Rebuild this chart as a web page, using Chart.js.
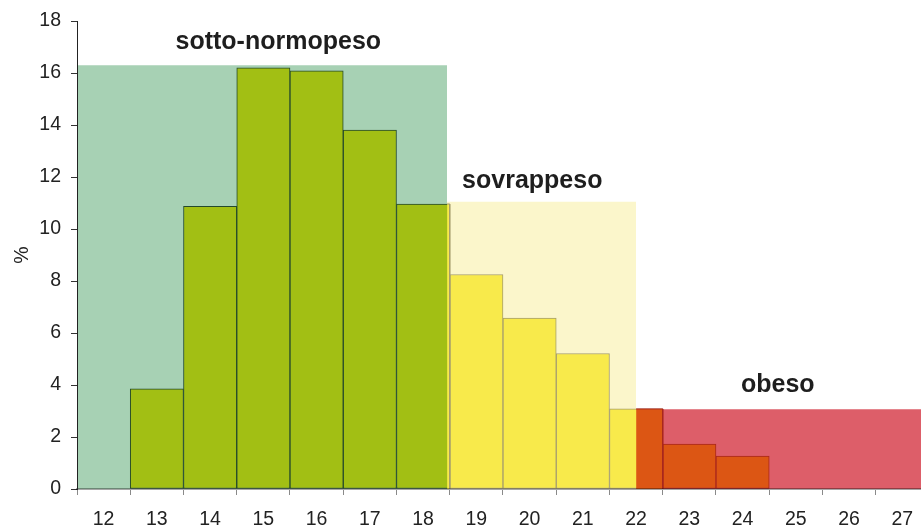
<!DOCTYPE html>
<html>
<head>
<meta charset="utf-8">
<script src="https://cdn.jsdelivr.net/npm/chart.js@4.4.1/dist/chart.umd.min.js"></script>
<style>
  html, body { margin: 0; padding: 0; background: #ffffff; overflow: hidden; }
  canvas { display: block; }
</style>
</head>
<body>
<canvas id="c" width="921" height="529"></canvas>
<script>
// ---- data ----
const tickLabels = [12, 13, 14, 15, 16, 17, 18, 19, 20, 21, 22, 23, 24, 25, 26, 27];

const normX = [13, 14, 15, 16, 17, 18];
const normVals = [3.85, 10.87, 16.2, 16.08, 13.8, 10.96];

const overX = [19, 20, 21, 22];
const overVals = [8.25, 6.57, 5.21, 3.08];

const obeseX = [23, 24];
const obeseVals = [1.73, 1.27];

// bands (class ranges on the x axis and their heights)
const bandNames = ['sotto-normopeso', 'sovrappeso', 'obeso'];
const bandStart = [11.5, 18.45, 22.0];
const bandEnd = [18.45, 22.0, 28.0];
const bandHeight = [16.3, 11.05, 3.07];
// label anchor positions (data units)
const bandLabelX = [15.28, 20.05, 24.66];
const bandLabelY = [17.18, 11.83, 3.99];

// split bars on the class limits
const splitOverX = [18.45, 18.5];   // part of bar 18 falling in "sovrappeso"
const splitOverVal = 10.96;
const splitObeseX = [22.0, 22.5];   // part of bar 22 falling in "obeso"
const splitObeseVal = 3.08;

// ---- styles ----
const bandColors = ['#a7d1b4', '#fbf6cb', '#dd5e69'];
const normFill = '#a2bf14', normBorder = '#244a2c';
const overFill = '#f8ea4b', overBorder = '#a69e6e';
const obeseFill = '#dc5614', obeseBorder = '#a8261e';

function pts(xs, ys) { return xs.map((x, i) => ({ x: x, y: ys[i] })); }

const datasets = [];
bandNames.forEach((n, i) => {
  datasets.push({
    type: 'line',
    label: n,
    data: [{ x: bandStart[i], y: bandHeight[i] }, { x: bandEnd[i], y: bandHeight[i] }],
    backgroundColor: bandColors[i],
    borderWidth: 0,
    borderColor: 'rgba(0,0,0,0)',
    pointRadius: 0,
    fill: 'origin',
    order: 10
  });
});

function barSet(xs, vals, fill, border) {
  return {
    type: 'bar',
    data: pts(xs, vals),
    backgroundColor: fill,
    borderColor: border,
    borderWidth: 1,
    borderSkipped: false,
    grouped: false,
    barPercentage: 1,
    categoryPercentage: 1,
    order: 5
  };
}
datasets.push(barSet(normX, normVals, normFill, normBorder));
datasets.push(barSet(overX, overVals, overFill, overBorder));
datasets.push(barSet(obeseX, obeseVals, obeseFill, obeseBorder));

function splitSet(xs, v, fill, border) {
  return {
    type: 'line',
    data: [{ x: xs[0], y: v }, { x: xs[1], y: v }, { x: xs[1], y: 0 }],
    backgroundColor: fill,
    borderColor: border,
    borderWidth: 1,
    pointRadius: 0,
    tension: 0,
    fill: 'origin',
    order: 1
  };
}
datasets.push(splitSet(splitOverX, splitOverVal, overFill, overBorder));
datasets.push(splitSet(splitObeseX, splitObeseVal, obeseFill, obeseBorder));

const bandLabels = {
  id: 'bandLabels',
  afterDatasetsDraw(chart) {
    const ctx = chart.ctx;
    const xs = chart.scales.x, ys = chart.scales.y;
    ctx.save();
    ctx.font = 'bold 25px "Liberation Sans", Arial, sans-serif';
    ctx.fillStyle = '#1e1e1e';
    ctx.textAlign = 'center';
    ctx.textBaseline = 'middle';
    bandNames.forEach((n, i) => {
      ctx.fillText(n, xs.getPixelForValue(bandLabelX[i]), ys.getPixelForValue(bandLabelY[i]));
    });
    ctx.restore();
  }
};

const tickFont = { family: '"Liberation Sans", Arial, sans-serif', size: 19.5 };

new Chart(document.getElementById('c'), {
  type: 'bar',
  data: { datasets: datasets },
  options: {
    responsive: false,
    animation: false,
    layout: { padding: { top: 21, right: 0, left: 0, bottom: 0 } },
    plugins: { legend: { display: false }, tooltip: { enabled: false } },
    scales: {
      x: {
        type: 'linear',
        min: 11.5,
        max: 27.35,
        offset: false,
        afterBuildTicks(scale) { scale.ticks = tickLabels.map(v => ({ value: v })); },
        afterFit(scale) { scale.height = 40; scale.paddingRight = 0; scale.paddingLeft = 0; },
        grid: { offset: true, drawOnChartArea: false, drawTicks: true, tickLength: 6, color: '#8a8a8a' },
        border: { display: true, color: 'rgba(0,0,0,0.35)', width: 2, z: 1 },
        ticks: { font: tickFont, color: '#222', padding: 13, maxRotation: 0, autoSkip: false,
                 callback: (v) => String(v) }
      },
      y: {
        min: 0,
        max: 18,
        afterFit(scale) { scale.width = 77; scale.paddingTop = 0; scale.paddingBottom = 0; },
        grid: { drawOnChartArea: false, drawTicks: true, tickLength: 6, color: '#333' },
        border: { display: true, color: '#222', width: 1, z: 1 },
        ticks: { stepSize: 2, font: tickFont, color: '#222', padding: 10 },
        title: { display: true, text: '%', font: tickFont, color: '#222', padding: { top: 11, bottom: 0 } }
      }
    }
  },
  plugins: [bandLabels]
});
</script>
</body>
</html>
